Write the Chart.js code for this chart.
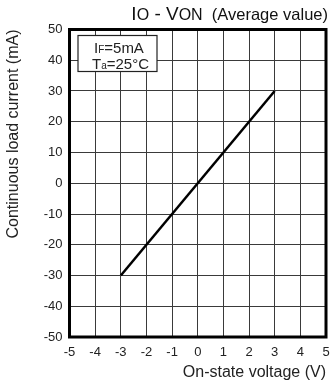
<!DOCTYPE html>
<html>
<head>
<meta charset="utf-8">
<script src="https://cdn.jsdelivr.net/npm/chart.js@4"></script>
<style>
  html, body { margin: 0; padding: 0; background: #fff; }
  #wrap { width: 330px; height: 385px; }
</style>
</head>
<body>
<div id="wrap"><canvas id="myChart" width="330" height="385"></canvas></div>
<script>
// values
const voltage = [-3, 3];
const current = [-30, 30];
const xTicks = [-5, -4, -3, -2, -1, 0, 1, 2, 3, 4, 5];
const yTicks = [-50, -40, -30, -20, -10, 0, 10, 20, 30, 40, 50];

const FONT = "'Liberation Sans', Arial, sans-serif";

// thick frame, condition box and the mixed-size title
const decor = {
  id: 'decor',
  afterDatasetsDraw(chart) {
    const c = chart.ctx;
    const a = chart.chartArea;
    c.save();
    c.strokeStyle = '#000';
    c.lineWidth = 3;
    c.strokeRect(a.left, a.top, a.right - a.left, a.bottom - a.top);

    // condition box
    c.fillStyle = '#fff';
    c.fillRect(78, 35.5, 79, 36);
    c.lineWidth = 1.2;
    c.strokeStyle = '#222';
    c.strokeRect(78, 35.5, 79, 36);

    c.fillStyle = '#222';
    c.textBaseline = 'alphabetic';
    // IF=5mA
    let x = 94, y = 53;
    c.font = '15px ' + FONT; c.fillText('I', x, y); x += c.measureText('I').width;
    c.font = '10px ' + FONT; c.fillText('F', x, y); x += c.measureText('F').width;
    c.font = '15px ' + FONT; c.fillText('=5mA', x, y);
    // Ta=25°C
    x = 92; y = 69;
    c.font = '15px ' + FONT; c.fillText('T', x, y); x += c.measureText('T').width;
    c.font = '10px ' + FONT; c.fillText('a', x, y); x += c.measureText('a').width;
    c.font = '15px ' + FONT; c.fillText('=25°C', x, y);

    // title  Io - Von (Average value)
    const parts = [
      ['I', 19], ['O', 16], [' - ', 19], ['V', 19], ['ON', 16], ['  (Average value)', 16.5]
    ];
    let w = 0;
    parts.forEach(p => { c.font = p[1] + 'px ' + FONT; w += c.measureText(p[0]).width; });
    x = 328 - w; y = 20;
    c.fillStyle = '#111';
    parts.forEach(p => {
      c.font = p[1] + 'px ' + FONT;
      c.fillText(p[0], x, y);
      x += c.measureText(p[0]).width;
    });
    c.restore();
  }
};

try {
  const ctx = document.getElementById('myChart');

  new Chart(ctx, {
    type: 'scatter',
    data: {
      datasets: [{
        data: voltage.map((v, i) => ({ x: v, y: current[i] })),
        showLine: true,
        borderColor: '#000',
        borderWidth: 2.5,
        pointRadius: 0,
        fill: false
      }]
    },
    options: {
      responsive: false,
      animation: false,
      layout: { padding: { top: 29.5, right: 4, left: 0, bottom: 0 } },
      plugins: { legend: { display: false }, tooltip: { enabled: false } },
      scales: {
        x: {
          type: 'linear',
          min: -5, max: 5,
          afterBuildTicks: s => { s.ticks = xTicks.map(v => ({ value: v })); },
          afterFit: s => { s.height = 48; s.paddingLeft = 0; s.paddingRight = 0; },
          grid: { color: '#3a3a3a', lineWidth: 1, drawTicks: false },
          border: { display: false },
          ticks: { color: '#222', padding: 8, maxRotation: 0, autoSkip: false, font: { family: FONT, size: 13 } },
          title: {
            display: true, text: 'On-state voltage (V)', align: 'end', color: '#222',
            font: { family: FONT, size: 16 }, padding: { top: 0, bottom: 3 }
          }
        },
        y: {
          type: 'linear',
          min: -50, max: 50,
          afterBuildTicks: s => { s.ticks = yTicks.map(v => ({ value: v })); },
          afterFit: s => { s.width = 69.5; s.paddingTop = 0; s.paddingBottom = 0; },
          grid: { color: '#3a3a3a', lineWidth: 1, drawTicks: false },
          border: { display: false },
          ticks: { color: '#222', padding: 7, autoSkip: false, font: { family: FONT, size: 13 } },
          title: {
            display: true, text: 'Continuous load current (mA)', align: 'end', color: '#222',
            font: { family: FONT, size: 16 }, padding: { top: 4, bottom: 0 }
          }
        }
      }
    },
    plugins: [decor]
  });
} catch (error) {
  console.log(error);
}
</script>
</body>
</html>
